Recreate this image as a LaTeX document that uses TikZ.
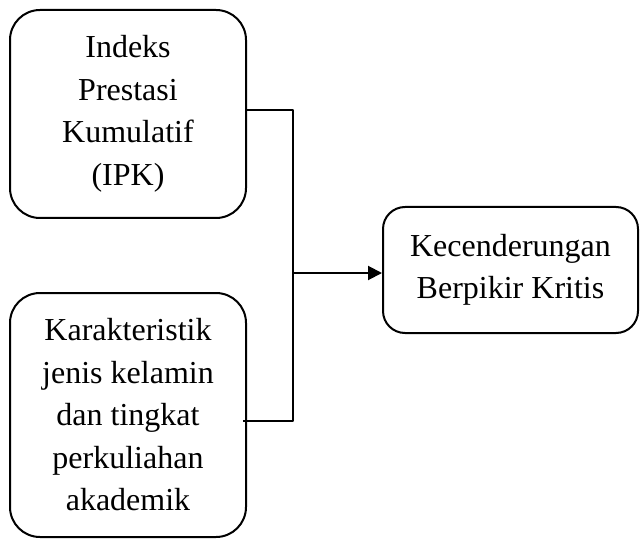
\documentclass[tikz,border=0pt]{standalone}
\usepackage{fontspec}
\setmainfont{Liberation Serif}
\usetikzlibrary{arrows.meta}

\begin{document}
\begin{tikzpicture}[x=0.5pt,y=-0.5pt,>={Triangle[length=7pt,width=7pt]},line join=round]
\tikzset{
  varbox/.style={draw,line width=1pt,rounded corners=15pt,align=center,inner sep=0pt,
    font=\fontsize{16}{21.25}\selectfont},
  link/.style={line width=1pt}
}
\useasboundingbox (0,0) rectangle (640,539);
\node[varbox,minimum width=118pt,minimum height=104pt] (ipk) at (128,114) {Indeks\\Prestasi\\Kumulatif\\(IPK)};
\node[varbox,minimum width=118pt,minimum height=122pt] (kar) at (128,415) {Karakteristik\\jenis kelamin\\dan tingkat\\perkuliahan\\akademik};
\node[varbox,rounded corners=11pt,minimum width=127.5pt,minimum height=63pt] (kbk) at (510.5,270) {Kecenderungan\\Berpikir Kritis};
\coordinate (j1) at (293,110);
\coordinate (j2) at (293,421);
\coordinate (jm) at (293,273);
\coordinate (k2) at (243,421);
\draw[link] (ipk.east |- j1) -- (j1) -- (j2) -- (k2);
\draw[link,->] (jm) -- (kbk.west |- jm);
\end{tikzpicture}
\end{document}
